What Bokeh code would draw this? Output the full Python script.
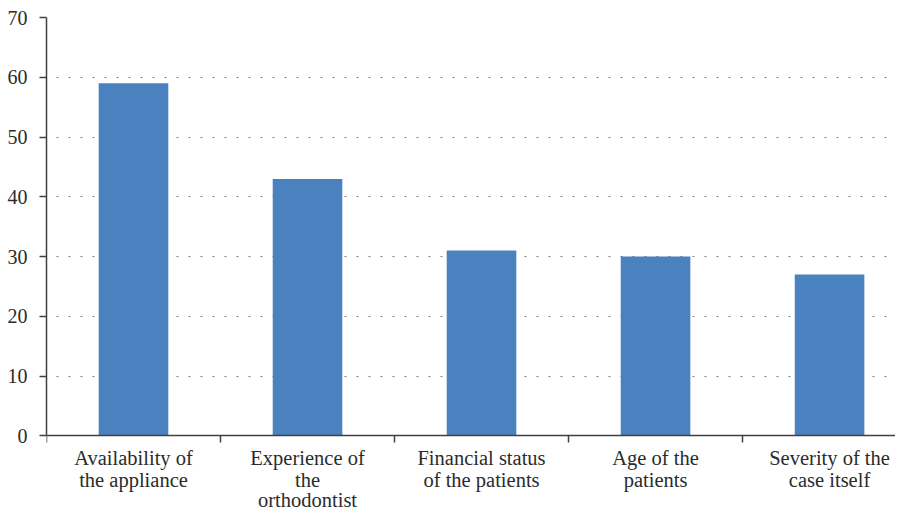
from bokeh.plotting import figure
from bokeh.models import Range1d, FixedTicker, ColumnDataSource, LabelSet
from bokeh.embed import file_html
from bokeh.resources import INLINE

categories = ["Availability of\nthe appliance", "Experience of\nthe\northodontist",
              "Financial status\nof the patients", "Age of the\npatients",
              "Severity of the\ncase itself"]
values = [59, 43, 31, 30, 27]
y_ticks = [0, 10, 20, 30, 40, 50, 60, 70]

centers = [i + 0.5 for i in range(len(categories))]
boundaries = list(range(len(categories) + 1))

split = [c.split("\n") + [""] * (3 - len(c.split("\n"))) for c in categories]

src = ColumnDataSource(dict(x=centers, top=values, base=[0] * len(values),
                            l1=[s[0] for s in split], l2=[s[1] for s in split],
                            l3=[s[2] for s in split]))

# frame extends below 0 so the wrapped category labels have room inside it
p = figure(width=895, height=510, output_backend="svg", toolbar_location=None,
           x_range=Range1d(0, 4.879), y_range=Range1d(-12.48, 70),
           min_border_left=46, min_border_right=0, min_border_top=17, min_border_bottom=0)
p.outline_line_color = None
p.background_fill_color = "white"
p.border_fill_color = "white"

p.vbar(x="x", top="top", width=0.4, bottom=0, source=src,
       fill_color="#4A81BF", line_color=None)

FONT = "Liberation Serif"
TXT = "#2b2b2b"
AX = "#404040"

p.xgrid.visible = False
p.ygrid.ticker = FixedTicker(ticks=y_ticks[1:])
p.ygrid.grid_line_color = "#808080"
p.ygrid.grid_line_dash = "2 10"
p.ygrid.grid_line_dash_offset = 2
p.ygrid.grid_line_width = 1.2

yax = p.yaxis[0]
yax.ticker = FixedTicker(ticks=y_ticks)
yax.bounds = (0, 70)
yax.axis_line_color = AX
yax.axis_line_width = 1.5
yax.major_tick_line_color = AX
yax.major_tick_line_width = 1.5
yax.major_tick_out = 7
yax.major_tick_in = 0
yax.minor_tick_line_color = None
yax.major_label_text_font = FONT
yax.major_label_text_font_size = "20px"
yax.major_label_text_color = TXT
yax.major_label_standoff = 12

xax = p.xaxis[0]
xax.fixed_location = 0
xax.ticker = FixedTicker(ticks=centers, minor_ticks=boundaries)
xax.major_label_overrides = {c: "" for c in centers}
xax.axis_line_color = AX
xax.axis_line_width = 1.5
xax.major_tick_line_color = None
xax.minor_tick_line_color = AX
xax.minor_tick_line_width = 1.5
xax.minor_tick_out = 7
xax.minor_tick_in = 0

for col, off in (("l1", -29), ("l2", -51), ("l3", -71)):
    p.add_layout(LabelSet(x="x", y="base", text=col, source=src, y_offset=off,
                          text_align="center", text_baseline="alphabetic",
                          text_font=FONT, text_font_size="20.5px", text_color=TXT))

open("out.html", "w").write(file_html(p, INLINE))
